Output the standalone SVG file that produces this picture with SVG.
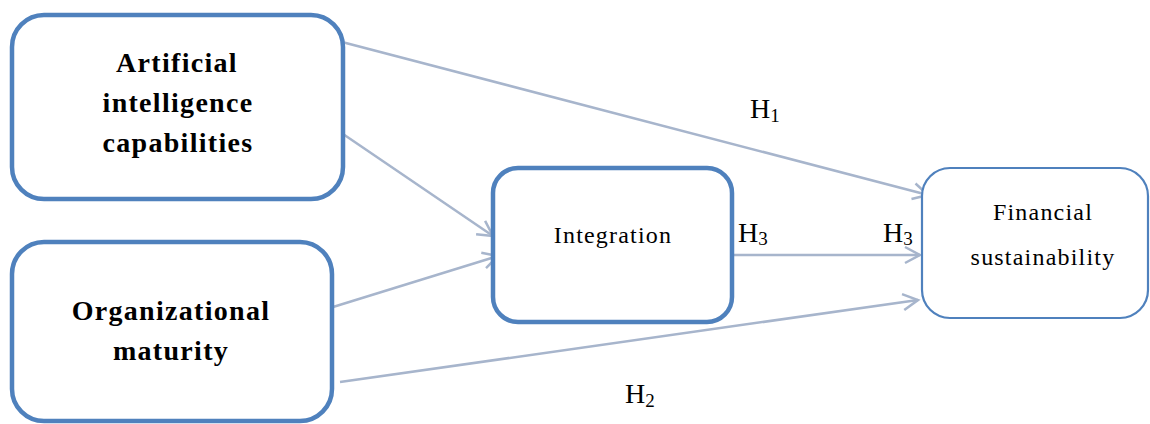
<svg xmlns="http://www.w3.org/2000/svg" width="1150" height="424" viewBox="0 0 1150 424">
<style>
.box{fill:#fff;stroke:#4F81BD;stroke-width:4.5}
.thin{stroke-width:2.2}
.bold{font-family:"Liberation Serif",serif;font-weight:bold;font-size:28px;letter-spacing:1.3px;fill:#000;text-anchor:middle}
.reg{font-family:"Liberation Serif",serif;font-size:24px;letter-spacing:1.2px;fill:#000;text-anchor:middle}
.h{font-family:"Liberation Serif",serif;font-size:28px;fill:#000}
.sub{font-size:19px}
.conn{stroke:#A7B5CC;stroke-width:2.5;fill:none;marker-end:url(#arr)}
</style>
<defs>
<marker id="arr" markerUnits="userSpaceOnUse" markerWidth="20" markerHeight="20" viewBox="0 0 20 20" refX="17" refY="10" orient="auto">
<path d="M2,2 L17,10 L2,18" fill="none" stroke="#A7B5CC" stroke-width="2.5"/>
</marker>
</defs>
<rect width="1150" height="424" fill="#fff"/>
<g id="connectors">
<line class="conn" x1="342" y1="42" x2="928" y2="195"/>
<line class="conn" x1="343" y1="134" x2="493" y2="236"/>
<line class="conn" x1="333" y1="307" x2="498" y2="256"/>
<line class="conn" x1="340" y1="382" x2="918" y2="300"/>
<line class="conn" x1="733" y1="255" x2="920" y2="255"/>
</g>
<g id="node-ai">
<rect class="box" x="12" y="15" width="331" height="184" rx="32"/>
<text class="bold" x="177" y="72">Artificial</text>
<text class="bold" x="178" y="112">intelligence</text>
<text class="bold" x="178" y="152">capabilities</text>
</g>
<g id="node-om">
<rect class="box" x="12" y="242" width="320" height="179" rx="32"/>
<text class="bold" x="171" y="320">Organizational</text>
<text class="bold" x="171" y="360">maturity</text>
</g>
<g id="node-int">
<rect class="box" x="493" y="168" width="239" height="154" rx="25"/>
<text class="reg" x="613" y="243">Integration</text>
</g>
<g id="node-fs">
<rect class="box thin" x="922" y="168" width="226" height="150" rx="28"/>
<text class="reg" x="1043" y="220">Financial</text>
<text class="reg" x="1043" y="265">sustainability</text>
</g>
<g id="labels">
<text class="h" x="750" y="118">H<tspan class="sub" dy="4">1</tspan></text>
<text class="h" x="738" y="242">H<tspan class="sub" dy="3">3</tspan></text>
<text class="h" x="883" y="242">H<tspan class="sub" dy="3">3</tspan></text>
<text class="h" x="625" y="403">H<tspan class="sub" dy="4">2</tspan></text>
</g>
</svg>
